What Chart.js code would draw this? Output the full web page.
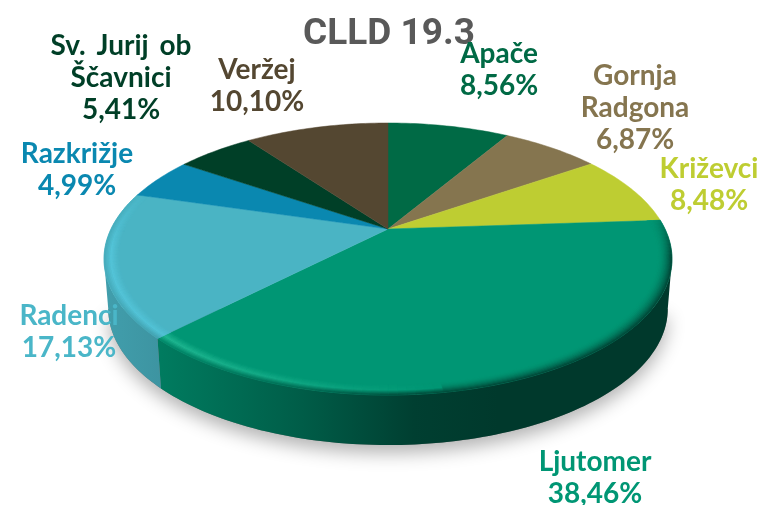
<!DOCTYPE html>
<html><head><meta charset="utf-8">
<style>html,body{margin:0;padding:0;background:#fff}#w{width:767px;height:505px}</style>
<script src="https://cdn.jsdelivr.net/npm/chart.js@4"></script>
</head><body><div id="w"><canvas id="c"></canvas></div>
<script>
const categories = ['Apače','Gornja Radgona','Križevci','Ljutomer','Radenci','Razkrižje','Sv. Jurij ob Ščavnici','Veržej'];
const labelLines = [['Apače'],['Gornja','Radgona'],['Križevci'],['Ljutomer'],['Radenci'],['Razkrižje'],['Sv. Jurij ob','Ščavnici'],['Veržej']];
const shares = [8.56,6.87,8.48,38.46,17.13,4.99,5.41,10.10];
const sliceColors = ['#006A45','#85754F','#BECD32','#009674','#4AB4C4','#0A88B0','#003F27','#544731'];
const textColors = ['#006A45','#85754F','#BECD32','#009674','#4AB6C8','#0A88B0','#003F27','#544731'];
const titleText = 'CLLD 19.3';

// view of the tilted disc
const V = {cx:388, cy:229, A:277, B:129.4, k:0.2206, depth:50, bottomScale:0.985};
const labelSpots = [[499,63],[635,85],[709,178],[595,471],[69,325],[77,163],[121,55],[257,79]];
const rimLift = {3:[38,39,35], 4:[10,16,20]};
const FONT = 'bold 28px Lato, sans-serif';

const rgb = h => [1,3,5].map(i=>parseInt(h.substr(i,2),16));
const css = c => 'rgb('+c.map(v=>Math.max(0,Math.min(255,Math.round(v)))).join(',')+')';
const mix = (p,q,t) => p.map((v,i)=>v+(q[i]-v)*t);
function pt(phi,r,drop,sc){
  const X=r*Math.cos(phi),Y=r*Math.sin(phi),w=1-V.k*Y;
  return [V.cx+(sc||1)*V.A*X/w, V.cy+V.B*Y/w+(drop||0)];
}
const stops=[[0,.88],[.1,.82],[.35,.62],[.55,.42],[.7,.38],[1,.38]];
function wallShade(x){
  const t=Math.max(0,Math.min(1,(x-105)/562));
  for(let i=1;i<stops.length;i++) if(t<=stops[i][0]){
    const s=stops[i-1],e=stops[i];return s[1]+(e[1]-s[1])*(t-s[0])/(e[0]-s[0]);
  }
  return .38;
}
function tracePart(ctx,a0,a1,r,drop,sc,first){
  const n=Math.max(2,Math.ceil(Math.abs(a1-a0)/0.02));
  for(let i=0;i<=n;i++){const p=pt(a0+(a1-a0)*i/n,r,drop,sc);
    if(i===0&&first)ctx.moveTo(p[0],p[1]);else ctx.lineTo(p[0],p[1]);}
}
const wallFrom=Math.asin(V.k), wallTo=Math.PI-Math.asin(V.k);

const discPlugin={
  id:'disc',
  beforeDatasetsDraw(chart){
    const ctx=chart.ctx, meta=chart.getDatasetMeta(0);
    // soft shadow under the whole solid
    ctx.save();
    ctx.shadowColor='rgba(0,0,0,0.30)';ctx.shadowBlur=18;ctx.shadowOffsetY=8;ctx.fillStyle='#777';
    ctx.beginPath();tracePart(ctx,wallFrom,wallTo,1,V.depth,V.bottomScale,true);ctx.closePath();ctx.fill();
    ctx.restore();
    // walls, from each arc the library laid out
    meta.data.forEach((arc,i)=>{
      const s=Math.max(arc.startAngle,wallFrom),e=Math.min(arc.endAngle,wallTo);
      if(e<=s)return;
      const base=rgb(sliceColors[i]);
      const g=ctx.createLinearGradient(105,0,667,0);
      stops.forEach(st=>g.addColorStop(st[0],css(base.map(v=>v*st[1]))));
      ctx.fillStyle=g;ctx.beginPath();
      tracePart(ctx,s,e,1,0,1,true);tracePart(ctx,e,s,1,V.depth,V.bottomScale,false);
      ctx.closePath();ctx.fill();
    });
    // top faces: the library calls draw on each arc element
    meta.data.forEach((arc,i)=>{
      arc.draw=function(c){
        const base=rgb(sliceColors[i]);
        c.save();c.fillStyle=css(base);c.strokeStyle=css(base);c.lineWidth=.5;
        c.beginPath();c.moveTo(V.cx,V.cy);tracePart(c,arc.startAngle,arc.endAngle,1,0,1,false);
        c.closePath();c.fill();c.stroke();
        const lift=rimLift[i];
        if(lift){
          const step=0.026,dr=0.005,R0=0.95;
          for(let a=arc.startAngle;a<arc.endAngle-1e-4;a+=step){
            const a2=Math.min(a+step,arc.endAngle),mid=(a+a2)/2;
            let deg=mid*180/Math.PI; if(deg<-90)deg+=360;
            const amp=deg<12?Math.max(0,(deg+8)/20):deg>172?Math.max(0,(200-deg)/28):1;
            if(amp<=0)continue;
            const xm=pt(mid,1)[0];
            const Lx=Math.max(0,Math.min(1,1-(xm-105)/340));
            const sh=wallShade(xm);
            const peak=base.map((v,j)=>v+lift[j]*Lx);
            const edge=base.map(v=>v*(0.45*sh+0.55*Math.min(1,sh+.12)));
            for(let r=R0;r<1-1e-4;r+=dr){
              const t=(r+dr/2-R0)/(1-R0);
              let col=t<.55?mix(base,peak,t/.55):mix(peak,edge,(t-.55)/.45);
              if(Lx===0)col=mix(base,edge,t*t);
              col=mix(base,col,amp);
              const p=[pt(a,r),pt(a2,r),pt(a2,r+dr),pt(a,r+dr)];
              c.fillStyle=c.strokeStyle=css(col);
              c.beginPath();c.moveTo(p[0][0],p[0][1]);for(let q=1;q<4;q++)c.lineTo(p[q][0],p[q][1]);
              c.closePath();c.fill();c.stroke();
            }
          }
        }
        c.restore();
      };
    });
  },
  afterDatasetsDraw(chart){
    const ctx=chart.ctx;
    ctx.save();ctx.font=FONT;ctx.textAlign='center';ctx.textBaseline='alphabetic';
    ctx.wordSpacing='4px';
    categories.forEach((n,i)=>{
      const lines=labelLines[i].concat(shares[i].toFixed(2).replace('.',',')+'%');
      ctx.fillStyle=textColors[i];
      lines.forEach((l,j)=>ctx.fillText(l,labelSpots[i][0],labelSpots[i][1]+j*32));
    });
    ctx.restore();
  }
};

new Chart(document.getElementById('c'),{
  type:'pie',
  data:{labels:categories,datasets:[{data:shares,backgroundColor:sliceColors,borderWidth:0}]},
  options:{
    responsive:true,maintainAspectRatio:false,animation:false,
    events:[],
    layout:{padding:{left:11}},
    plugins:{
      legend:{display:false},tooltip:{enabled:false},
      title:{display:true,text:titleText,color:'#595959',font:{family:'Roboto, sans-serif',size:37,weight:'bold'},padding:{top:13,bottom:0}}
    }
  },
  plugins:[discPlugin]
});
</script></body></html>
